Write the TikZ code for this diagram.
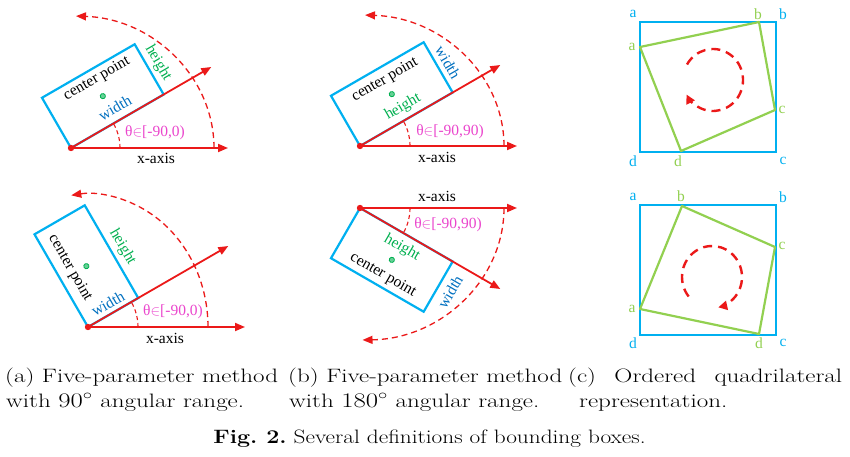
\documentclass[tikz,border=0pt]{standalone}
\usepackage{fontspec}
\usetikzlibrary{arrows.meta}
\newfontfamily\tnr{Liberation Serif}
\definecolor{boxblue}{RGB}{0,176,240}
\definecolor{wblue}{RGB}{0,112,192}
\definecolor{hgreen}{RGB}{0,176,80}
\definecolor{qgreen}{RGB}{146,208,80}
\definecolor{redc}{RGB}{235,25,25}
\definecolor{tpink}{RGB}{235,70,205}
\newcommand\hstretch[1]{\scalebox{1.29}[1]{#1}}
\tikzset{
  bbox/.style={draw=boxblue,line width=2.2pt},
  axis/.style={draw=redc,line width=1.8pt,-{Triangle[length=10pt,width=8pt]}},
  darc/.style={draw=redc,line width=1.3pt,dash pattern=on 6pt off 4pt,-{Triangle[length=10pt,width=8pt]}},
  sarc/.style={draw=redc,line width=1.1pt,dash pattern=on 4pt off 3pt},
  lab/.style={font=\tnr\fontsize{15.5}{18}\selectfont,inner sep=0pt},
  cdot/.style={fill=hgreen!60,draw=hgreen,line width=0.8pt},
  odot/.style={fill=redc},
  quad/.style={draw=qgreen,line width=2.2pt,line join=round},
  circarr/.style={draw=redc,line width=2.4pt,dash pattern=on 9pt off 6pt,-{Triangle[length=9pt,width=9pt]}},
  captext/.style={font=\fontsize{19.4}{23}\selectfont,inner sep=0pt,anchor=base west},
  bl/.style={lab,text=boxblue},
  gl/.style={lab,text=qgreen},
}
\begin{document}
\frenchspacing
\begin{tikzpicture}[x=1pt,y=1pt]
\useasboundingbox (0,0) rectangle (850,456);
\fill[white] (0,0) rectangle (850,456);

% ---------- (a) top ----------
\begin{scope}[shift={(71,308)}]
  \coordinate (aO) at (0,0);
  \coordinate (aX) at (157,0);
  \coordinate (aR) at (30:162);
  \draw[bbox,rotate=30] (0,0) rectangle (107,58);
  \draw[darc] (143,0) arc[start angle=0,end angle=88,x radius=143,y radius=132];
  \draw[sarc] (49,0) arc[start angle=0,end angle=30,radius=49];
  \draw[axis] (aO) -- (aX);
  \draw[axis] (aO) -- (aR);
  \fill[odot] (aO) circle (3.2);
  \begin{scope}[rotate=30]
    \filldraw[cdot] (53.5,29) circle (2.6);
    \node[lab,rotate=30] (acp) at (57,47) {center point};
    \node[lab,text=wblue,rotate=30] (aw) at (58,12.6) {width};
    \node[lab,text=hgreen,rotate=-60] (ah) at (118,30) {height};
  \end{scope}
  \node[lab,text=tpink] (ath) at (84,15) {θ$\in$[-90,0)};
  \node[lab] (axl) at (85,-10) {x-axis};
\end{scope}

% ---------- (b) top ----------
\begin{scope}[shift={(360,310)}]
  \coordinate (bO) at (0,0);
  \coordinate (bX) at (157,0);
  \coordinate (bR) at (30:162);
  \draw[bbox,rotate=30] (0,0) rectangle (107,58);
  \draw[darc] (144,0) arc[start angle=0,end angle=88,x radius=144,y radius=131];
  \draw[sarc] (50,0) arc[start angle=0,end angle=30,radius=50];
  \draw[axis] (bO) -- (bX);
  \draw[axis] (bO) -- (bR);
  \fill[odot] (bO) circle (3.2);
  \begin{scope}[rotate=30]
    \filldraw[cdot] (53.5,29) circle (2.6);
    \node[lab,rotate=30] (bcp) at (54.6,44.7) {center point};
    \node[lab,text=hgreen,rotate=30] (bh) at (56.7,12.3) {height};
    \node[lab,text=wblue,rotate=-60] (bw) at (118,28.4) {width};
  \end{scope}
  \node[lab,text=tpink] (bth) at (90,14) {θ$\in$[-90,90)};
  \node[lab] (bxl) at (77,-11) {x-axis};
\end{scope}

% ---------- (a) bottom ----------
\begin{scope}[shift={(88,129)}]
  \coordinate (cO) at (0,0);
  \coordinate (cX) at (157,0);
  \coordinate (cR) at (30:162);
  \draw[bbox,rotate=30] (0,0) rectangle (58,107);
  \draw[darc] (120,0) arc[start angle=0,end angle=98,x radius=120,y radius=133];
  \draw[sarc] (50,0) arc[start angle=0,end angle=30,radius=50];
  \draw[axis] (cO) -- (cX);
  \draw[axis] (cO) -- (cR);
  \fill[odot] (cO) circle (3.2);
  \begin{scope}[rotate=30]
    \filldraw[cdot] (29,53.5) circle (2.6);
    \node[lab,rotate=-60] (ccp) at (14,60) {center point};
    \node[lab,text=wblue,rotate=30] (cw) at (29,10.5) {width};
    \node[lab,text=hgreen,rotate=-60] (ch) at (70,52) {height};
  \end{scope}
  \node[lab,text=tpink] (cth) at (85,15) {θ$\in$[-90,0)};
  \node[lab] (cxl) at (77,-11) {x-axis};
\end{scope}

% ---------- (b) bottom ----------
\begin{scope}[shift={(360,248)}]
  \coordinate (dO) at (0,0);
  \coordinate (dX) at (157,0);
  \coordinate (dR) at (-30:162);
  \draw[bbox,rotate=-30] (0,0) rectangle (107,-58);
  \draw[darc] (144,0) arc[start angle=0,end angle=-89,x radius=144,y radius=132];
  \draw[sarc] (50,0) arc[start angle=0,end angle=-30,radius=50];
  \draw[axis] (dO) -- (dX);
  \draw[axis] (dO) -- (dR);
  \fill[odot] (dO) circle (3.2);
  \begin{scope}[rotate=-30]
    \filldraw[cdot] (53.5,-29) circle (2.6);
    \node[lab,rotate=-30] (dcp) at (53.4,-46.5) {center point};
    \node[lab,text=hgreen,rotate=-30] (dh) at (56.4,-13.6) {height};
    \node[lab,text=wblue,rotate=60] (dw) at (120,-27.7) {width};
  \end{scope}
  \node[lab,text=tpink] (dth) at (88,-17) {θ$\in$[-90,90)};
  \node[lab] (dxl) at (77,12) {x-axis};
\end{scope}

% ---------- (c) top ----------
\draw[bbox] (640,304) rectangle (776,434);
\coordinate (ea) at (640,409);
\coordinate (eb) at (759,434);
\coordinate (ec) at (775,346);
\coordinate (ed) at (681,305);
\draw[quad] (ea) -- (eb) -- (ec) -- (ed) -- cycle;
\draw[circarr] (713,376) ++(150:30 and 31) arc[start angle=150,end angle=-152,x radius=30,y radius=31];
\node[bl] (eBa) at (633,442) {a};
\node[bl] (eBb) at (783,442) {b};
\node[gl] (eGb) at (758,442) {b};
\node[gl] (eGa) at (632,409) {a};
\node[gl] (eGc) at (782,346) {c};
\node[bl] (eBd) at (633,295) {d};
\node[gl] (eGd) at (678,295) {d};
\node[bl] (eBc) at (783,295) {c};

% ---------- (c) bottom ----------
\draw[bbox] (640,121) rectangle (776,251);
\coordinate (fb) at (682,250);
\coordinate (fc) at (775,209);
\coordinate (fd) at (759,122);
\coordinate (fa) at (640,147);
\draw[quad] (fa) -- (fb) -- (fc) -- (fd) -- cycle;
\draw[circarr] (712,179) ++(219:30 and 31) arc[start angle=219,end angle=-78,x radius=30,y radius=31];
\node[bl] (fBa) at (633,259) {a};
\node[gl] (fGb) at (681,260) {b};
\node[bl] (fBb) at (783,259) {b};
\node[gl] (fGc) at (782,210) {c};
\node[gl] (fGa) at (632,147) {a};
\node[bl] (fBd) at (633,113) {d};
\node[gl] (fGd) at (759,113) {d};
\node[bl] (fBc) at (783,113) {c};

% ---------- captions ----------
\node[captext] (ca1) at (5,74) {\hstretch{(a) Five-parameter method}};
\node[captext] (ca2) at (6,49) {\hstretch{with $90^\circ$ angular range.}};
\node[captext] (cb1) at (288,74) {\hstretch{(b) Five-parameter method}};
\node[captext] (cb2) at (289,49) {\hstretch{with $180^\circ$ angular range.}};
\node[captext] (cc1) at (568,74) {\hstretch{\makebox[212.4pt][s]{(c) Ordered quadrilateral}}};
\node[captext] (cc2) at (579,49) {\hstretch{representation.}};
\node[captext,anchor=base] (fig) at (429.5,13) {\scalebox{1.2}[1]{\textbf{Fig. 2.} Several definitions of bounding boxes.}};
\end{tikzpicture}
\end{document}
